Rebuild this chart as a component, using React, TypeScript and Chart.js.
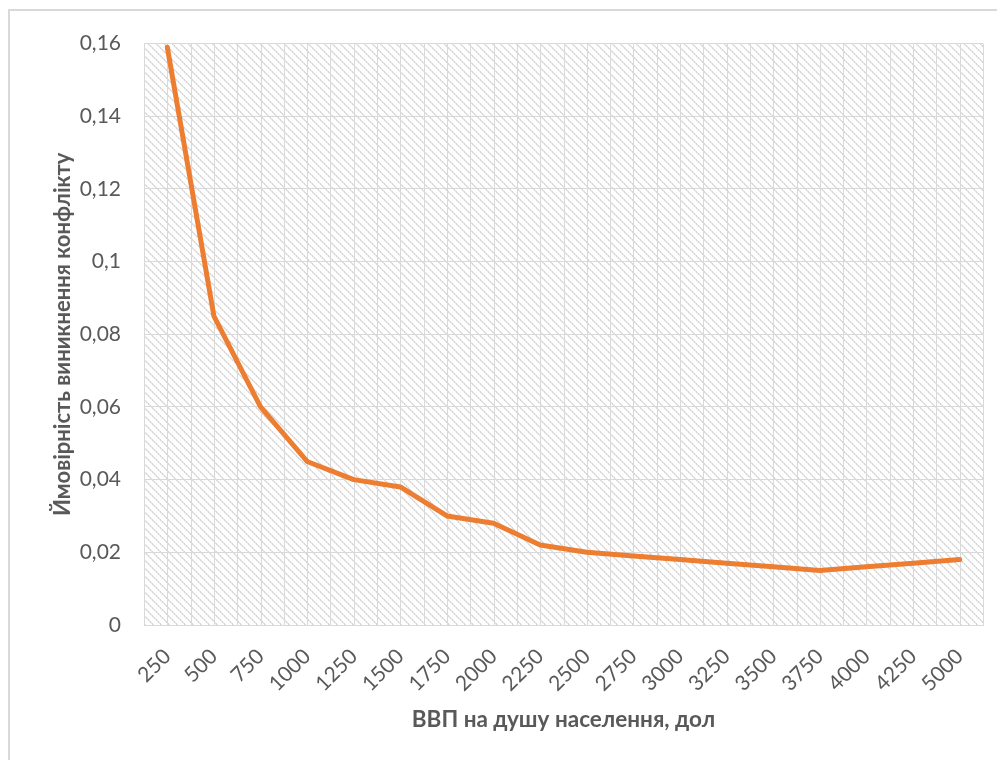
import React, { useEffect, useRef } from "react";
import { Chart, registerables } from "chart.js";

Chart.register(...registerables);

const categories: string[] = [
  "250", "500", "750", "1000", "1250", "1500", "1750", "2000", "2250",
  "2500", "2750", "3000", "3250", "3500", "3750", "4000", "4250", "5000",
];

const probability: number[] = [
  0.159, 0.085, 0.06, 0.045, 0.04, 0.038, 0.03, 0.028, 0.022,
  0.02, 0.019, 0.018, 0.017, 0.016, 0.015, 0.016, 0.017, 0.018,
];

const yTitle = "Ймовірність виникнення конфлікту";
const xTitle = "ВВП на душу населення, дол";

const TEXT = "#595959";
const GRID = "#d9d9d9";
const FONT = "Lato, 'Open Sans', sans-serif";

function makePattern(ctx: CanvasRenderingContext2D): CanvasPattern | string {
  const c = document.createElement("canvas");
  c.width = 8;
  c.height = 8;
  const p = c.getContext("2d");
  if (!p) return "#f2f2f2";
  p.fillStyle = "#ffffff";
  p.fillRect(0, 0, 8, 8);
  for (let i = 0; i < 8; i++) {
    p.fillStyle = i % 2 === 0 ? "#d6d6d6" : "#e4e4e4";
    p.fillRect(i, i, 1, 1);
    p.fillStyle = i % 2 === 0 ? "#e4e4e4" : "#d6d6d6";
    p.fillRect((i + 1) % 8, i, 1, 1);
  }
  return ctx.createPattern(c, "repeat") || "#f2f2f2";
}

const decorPlugin = {
  id: "decor",
  beforeDraw(chart: any) {
    const { ctx, chartArea } = chart;
    ctx.save();
    ctx.fillStyle = makePattern(ctx);
    ctx.fillRect(chartArea.left, chartArea.top, chartArea.right - chartArea.left, chartArea.bottom - chartArea.top);
    ctx.strokeStyle = GRID;
    ctx.lineWidth = 2;
    ctx.strokeRect(1, 2, 3000, 3000);
    ctx.restore();
  },
  beforeDatasetsDraw(chart: any) {
    const { ctx, chartArea, scales } = chart;
    const x = scales.x;
    const n = categories.length;
    const w = (chartArea.right - chartArea.left) / n;
    ctx.save();
    ctx.strokeStyle = GRID;
    ctx.lineWidth = 1;
    ctx.beginPath();
    for (let k = 0; k <= n; k++) {
      const px = Math.round(chartArea.left + k * w) + 0.5;
      ctx.moveTo(px, chartArea.top);
      ctx.lineTo(px, chartArea.bottom);
    }
    for (let i = 0; i < n; i++) {
      const px = Math.round(x.getPixelForValue(i)) + 0.5;
      ctx.moveTo(px, chartArea.top);
      ctx.lineTo(px, chartArea.bottom);
    }
    ctx.stroke();
    ctx.restore();
  },
};

export default function App() {
  const ref = useRef<HTMLCanvasElement | null>(null);

  useEffect(() => {
    if (!ref.current) return;
    const chart = new Chart(ref.current, {
      type: "line",
      data: {
        labels: categories,
        datasets: [
          {
            data: probability,
            borderColor: "#ED7D31",
            backgroundColor: "#ED7D31",
            borderWidth: 5,
            pointRadius: 0,
            tension: 0,
            borderJoinStyle: "round",
            borderCapStyle: "round",
          },
        ],
      },
      options: {
        animation: false,
        responsive: true,
        maintainAspectRatio: false,
        layout: { padding: { left: 0, top: 30, right: 14, bottom: 0 } },
        plugins: {
          legend: { display: false },
          tooltip: { enabled: false },
        },
        scales: {
          x: {
            type: "category",
            offset: true,
            grid: { display: false, drawTicks: false },
            border: { display: true, color: GRID, width: 1 },
            ticks: {
              autoSkip: false,
              minRotation: 45,
              maxRotation: 45,
              padding: 19,
              color: TEXT,
              font: { family: FONT, size: 21 },
            },
            title: {
              display: true,
              text: xTitle,
              color: TEXT,
              font: { family: FONT, size: 22.5, weight: "bold" },
              padding: { top: 0, bottom: 27 },
            },
            afterFit(scale: any) {
              scale.height = 135;
            },
          },
          y: {
            min: 0,
            max: 0.16,
            grid: { color: GRID, lineWidth: 1, drawTicks: false },
            border: { display: false },
            ticks: {
              stepSize: 0.02,
              padding: 23,
              color: TEXT,
              font: { family: FONT, size: 21 },
              callback: (v: any) => String(Math.round(Number(v) * 100) / 100).replace(".", ","),
            },
            title: {
              display: true,
              text: yTitle,
              color: TEXT,
              font: { family: FONT, size: 22, weight: "bold" },
              padding: { top: 42, bottom: 0 },
            },
            afterFit(scale: any) {
              scale.width = 136;
            },
          },
        },
      } as any,
      plugins: [decorPlugin],
    });
    return () => chart.destroy();
  }, []);

  return (
    <div style={{ position: "fixed", left: 8, top: 8, width: 989, height: 752, background: "#fff" }}>
      <canvas ref={ref} />
    </div>
  );
}
